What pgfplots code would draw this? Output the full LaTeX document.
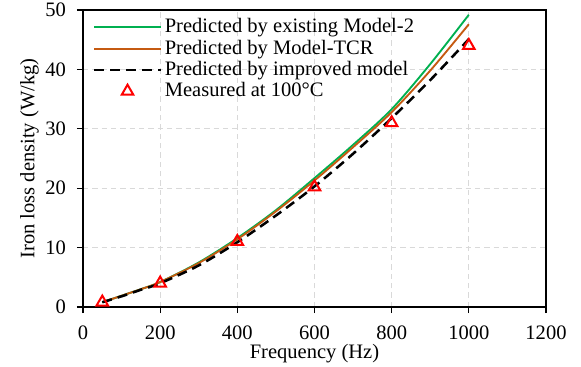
\documentclass[border=0pt]{standalone}
\usepackage{pgfplots}
\pgfplotsset{compat=1.18}
\usepackage{fontspec}
\setmainfont{Liberation Serif}
\definecolor{mgreen}{RGB}{0,176,80}
\definecolor{mbrown}{RGB}{197,90,17}
\definecolor{gridgray}{RGB}{217,217,217}
\begin{document}
\fontsize{15.4}{18}\selectfont
\begin{tikzpicture}[font=\fontsize{15.4}{18}\selectfont]
\begin{axis}[
  at={(0,0)}, anchor=south west,
  width=347.25pt, height=222.75pt,
  scale only axis,
  xmin=0, xmax=1200, ymin=0, ymax=50,
  xtick={0,200,...,1200}, ytick={0,10,...,50},
  tick align=outside, tick pos=left,
  major tick length=4.5pt,
  tick style={black, line width=0.8pt},
  axis line style={black, line width=1pt},
  grid=major,
  major grid style={gridgray, dash pattern=on 4pt off 3pt, line width=0.8pt},
  /pgf/number format/assume math mode=true,
  /pgf/number format/1000 sep={},
  xticklabel shift=4.5pt,
  yticklabel shift=3pt,
  ticklabel style={font=\fontsize{15.4}{18}\selectfont},
  label style={font=\fontsize{15.4}{18}\selectfont},
  xlabel={Frequency (Hz)},
  ylabel={Iron loss density (W/kg)},
  xlabel style={yshift=7pt},
  ylabel style={yshift=-5.5pt},
  legend style={at={(0.018,0.985)}, anchor=north west, draw=none, fill=none,
    font=\fontsize{15.4}{18}\selectfont, nodes={font=\fontsize{15.4}{18}\selectfont}, row sep=-1pt, inner sep=1pt},
  legend cell align=left,
  legend image code/.code={\draw[mark repeat=2,mark phase=2,#1] plot coordinates {(0pt,0pt) (25pt,0pt) (50pt,0pt)};},
]
\addplot[mgreen, line width=1.4pt, smooth] coordinates {
(50,0.8) (100,1.9) (150,3.0) (200,4.2) (300,7.5) (400,11.6) (500,16.3) (600,21.7) (700,27.3) (800,33.3) (900,40.9) (1000,49.2)};
\addlegendentry{Predicted by existing Model-2}
\addplot[mbrown, line width=1.4pt, smooth] coordinates {
(50,0.8) (100,1.9) (150,3.0) (200,4.2) (300,7.4) (400,11.4) (500,16.1) (600,21.3) (700,26.9) (800,32.8) (900,39.8) (1000,47.6)};
\addlegendentry{Predicted by Model-TCR}
\addplot[black, line width=1.9pt, dash pattern=on 7.5pt off 4.5pt, smooth] coordinates {
(50,0.8) (100,1.8) (150,2.9) (200,4.0) (300,7.0) (400,10.9) (500,15.4) (600,20.3) (700,25.8) (800,31.8) (900,38.2) (1000,45.1)};
\addlegendentry{Predicted by improved model}
\addplot[only marks, mark=triangle, mark size=5pt, mark options={red, line width=1.5pt}] coordinates {
(50,0.8) (200,4.0) (400,11.0) (600,20.2) (800,31.0) (1000,44.0)};
\addlegendentry{Measured at 100°C}
\end{axis}
\pgfresetboundingbox
\useasboundingbox (-62.25pt,-45pt) rectangle (373.5pt,230.25pt);
\end{tikzpicture}
\end{document}
